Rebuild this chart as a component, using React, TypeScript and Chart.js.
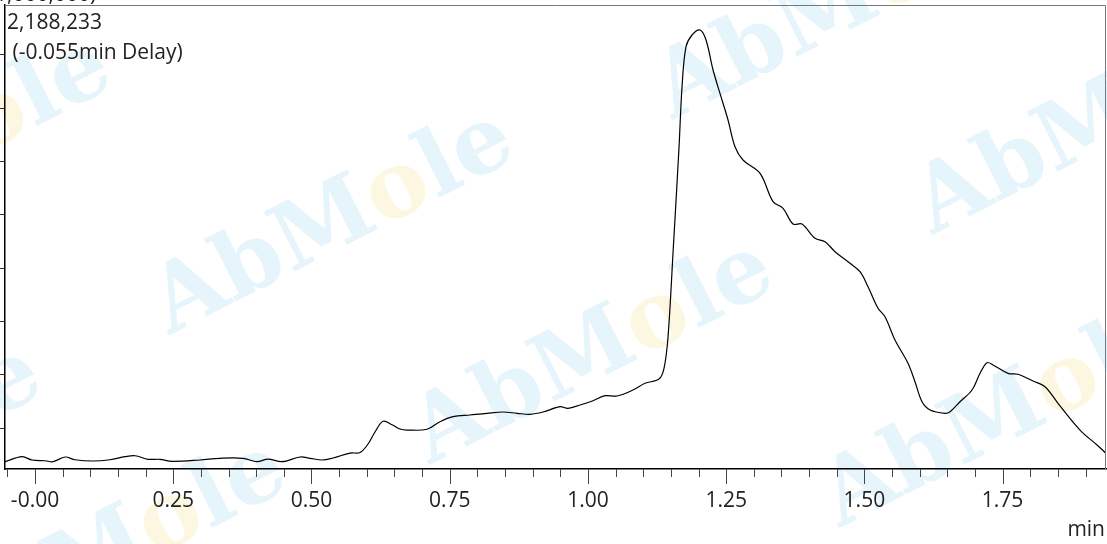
import React, { useEffect, useRef } from "react";
import { Chart, registerables } from "chart.js";

Chart.register(...registerables);

// Retention time (min)
const times: number[] = [
  -0.0543, -0.0235, -0.0054, 0.0181, 0.0326, 0.0543, 0.0723, 0.1049, 0.1356, 0.1628,
  0.1809, 0.2044, 0.2261, 0.2478, 0.2984, 0.3346, 0.3762, 0.4015, 0.4214, 0.4467,
  0.4793, 0.4974, 0.5191, 0.539, 0.5697, 0.5878, 0.6023, 0.6149, 0.6294, 0.6457,
  0.6602, 0.6728, 0.709, 0.7325, 0.756, 0.7868, 0.8175, 0.8464, 0.8718, 0.8953,
  0.9188, 0.9495, 0.964, 0.9857, 1.0092, 1.0309, 1.0526, 1.0816, 1.1033, 1.1286,
  1.1376, 1.1449, 1.1539, 1.1648, 1.1702, 1.1774, 1.1883, 1.2027, 1.2136, 1.2263,
  1.2425, 1.2534, 1.266, 1.2805, 1.3113, 1.3348, 1.3529, 1.371, 1.3872, 1.4107,
  1.4288, 1.4469, 1.474, 1.4921, 1.5066, 1.5247, 1.5373, 1.5554, 1.5789, 1.5915,
  1.6043, 1.6188, 1.6459, 1.6549, 1.673, 1.6947, 1.7092, 1.7218, 1.7327, 1.7598,
  1.7779, 1.805, 1.8267, 1.8502, 1.89, 1.9208, 1.9371,
];

// Intensity (axis units, one unit per y tick)
const intensity: number[] = [
  0.368, 0.462, 0.4, 0.386, 0.368, 0.456, 0.405, 0.381, 0.405, 0.462,
  0.48, 0.413, 0.413, 0.375, 0.4, 0.432, 0.432, 0.368, 0.418, 0.368,
  0.456, 0.432, 0.4, 0.437, 0.53, 0.54, 0.7, 0.925, 1.126, 1.062,
  0.981, 0.962, 0.976, 1.118, 1.212, 1.244, 1.276, 1.3, 1.276, 1.257,
  1.3, 1.4, 1.37, 1.432, 1.512, 1.606, 1.6, 1.713, 1.839, 1.919,
  2.12, 2.713, 4.283, 6.278, 7.403, 8.154, 8.373, 8.467, 8.28, 7.717,
  7.154, 6.779, 6.278, 6.028, 5.779, 5.246, 5.122, 4.827, 4.827, 4.559,
  4.495, 4.308, 4.09, 3.932, 3.651, 3.246, 3.088, 2.651, 2.214, 1.869,
  1.493, 1.338, 1.276, 1.306, 1.493, 1.713, 2.026, 2.225, 2.182, 2.026,
  2.008, 1.882, 1.775, 1.463, 0.962, 0.681, 0.525,
];

const xTickValues: number[] = [0, 0.25, 0.5, 0.75, 1.0, 1.25, 1.5, 1.75];
const xTickLabels: string[] = ["-0.00", "0.25", "0.50", "0.75", "1.00", "1.25", "1.50", "1.75"];
const yTickValues: number[] = [1, 2, 3, 4, 5, 6, 7, 8];

const peakLabel = "2,188,233";
const delayLabel = " (-0.055min Delay)";
const scaleLabelHidden = "(x1";
const scaleLabelShown = ",000,000)";
const xUnit = "min";
const watermarkWord = ["AbM", "o", "le"];
const watermarkAnchors: number[][] = [
  [397, 190], [657, 320], [1067, 383], [170, 520], [-5, 118], [900, -25], [1160, 90], [-75, 425], [560, 640],
];

const FONT = "'Open Sans', 'Liberation Sans', sans-serif";

const watermarkPlugin = {
  id: "watermark",
  beforeDraw(chart: any) {
    const ctx = chart.ctx;
    ctx.save();
    ctx.font = `bold 92px 'DejaVu Serif', serif`;
    const w1 = ctx.measureText(watermarkWord[0]).width;
    const wo = ctx.measureText(watermarkWord[1]).width;
    for (const [ox, oy] of watermarkAnchors) {
      ctx.save();
      ctx.translate(ox, oy);
      ctx.rotate((-27 * Math.PI) / 180);
      ctx.textBaseline = "alphabetic";
      const base = 26;
      const x0 = -(w1 + wo / 2);
      ctx.fillStyle = "#e6f4fb";
      ctx.fillText(watermarkWord[0], x0, base);
      ctx.fillStyle = "#fdf7e2";
      ctx.fillText(watermarkWord[1], x0 + w1, base);
      ctx.fillStyle = "#e6f4fb";
      ctx.fillText(watermarkWord[2], x0 + w1 + wo, base);
      ctx.restore();
    }
    ctx.restore();
  },
};

const decorPlugin = {
  id: "decor",
  afterDraw(chart: any) {
    const ctx = chart.ctx;
    const area = chart.chartArea;
    const xs = chart.scales.x;
    ctx.save();
    // top and right frame lines
    ctx.strokeStyle = "#777";
    ctx.lineWidth = 1;
    ctx.beginPath();
    ctx.moveTo(area.left, area.top + 0.5);
    ctx.lineTo(area.right - 0.5, area.top + 0.5);
    ctx.lineTo(area.right - 0.5, area.bottom);
    ctx.stroke();
    // x tick marks (major every 0.25, minor every 0.05)
    ctx.strokeStyle = "#444";
    for (let k = -1; k <= 38; k++) {
      const v = k * 0.05;
      const px = Math.round(xs.getPixelForValue(v)) + 0.5;
      if (px < area.left || px > area.right) continue;
      const major = k % 5 === 0;
      ctx.beginPath();
      ctx.moveTo(px, area.bottom);
      ctx.lineTo(px, area.bottom + (major ? 15 : 8));
      ctx.stroke();
    }
    // texts
    ctx.fillStyle = "#222";
    ctx.font = `21px ${FONT}`;
    ctx.textBaseline = "middle";
    ctx.textAlign = "left";
    ctx.fillText(peakLabel, 7, 23);
    ctx.fillText(delayLabel, 7, 53);
    ctx.textBaseline = "alphabetic";
    const hw = ctx.measureText(scaleLabelHidden).width;
    ctx.fillText(scaleLabelHidden + scaleLabelShown, 7 - hw, 1);
    ctx.textAlign = "right";
    ctx.textBaseline = "middle";
    ctx.fillText(xUnit, 1105, 530);
    ctx.restore();
  },
};

export default function App() {
  const ref = useRef<HTMLCanvasElement | null>(null);
  useEffect(() => {
    document.body.style.margin = "0";
    const canvas = ref.current!;
    const chart = new Chart(canvas, {
      type: "line",
      data: {
        datasets: [
          {
            data: times.map((t, i) => ({ x: t, y: intensity[i] })),
            borderColor: "#000",
            borderWidth: 1.2,
            pointRadius: 0,
            tension: 0.35,
            fill: false,
          },
        ],
      },
      options: {
        responsive: false,
        animation: false,
        layout: { padding: { top: 5, right: 1, left: 0, bottom: 0 } },
        plugins: { legend: { display: false }, tooltip: { enabled: false } },
        scales: {
          x: {
            type: "linear",
            min: -0.0543,
            max: 1.937,
            afterFit: (s: any) => {
              s.height = 75;
              s.paddingLeft = 0;
              s.paddingRight = 0;
            },
            afterBuildTicks: (s: any) => {
              s.ticks = xTickValues.map((v) => ({ value: v }));
            },
            grid: { display: false, drawTicks: false },
            border: { display: true, color: "#000", width: 1.5 },
            ticks: {
              padding: 19,
              color: "#222",
              font: { family: FONT, size: 21 },
              maxRotation: 0,
              autoSkip: false,
              callback: (v: any) => {
                const i = xTickValues.findIndex((t) => Math.abs(t - Number(v)) < 1e-6);
                return i >= 0 ? xTickLabels[i] : "";
              },
            },
          },
          y: {
            type: "linear",
            min: 0.231,
            max: 8.936,
            afterFit: (s: any) => {
              s.width = 5;
              s.paddingTop = 0;
              s.paddingBottom = 0;
            },
            afterBuildTicks: (s: any) => {
              s.ticks = yTickValues.map((v) => ({ value: v }));
            },
            grid: { display: true, drawOnChartArea: false, drawTicks: true, tickLength: 7, color: "#333" },
            border: { display: true, color: "#000", width: 1.5 },
            ticks: { display: false },
          },
        },
      },
      plugins: [watermarkPlugin, decorPlugin],
    });
    return () => chart.destroy();
  }, []);
  return (
    <div style={{ width: 1107, height: 544, background: "#fff" }}>
      <canvas ref={ref} width={1107} height={544} style={{ display: "block", width: 1107, height: 544 }} />
    </div>
  );
}
